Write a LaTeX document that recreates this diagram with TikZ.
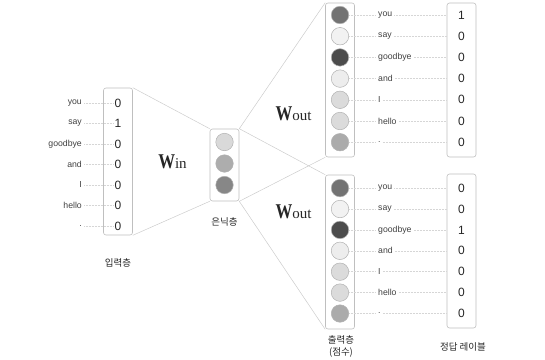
\documentclass[tikz,border=0pt]{standalone}
\usepackage{fontspec}
\setsansfont{Liberation Sans}
\newfontfamily\krfont{Noto Sans CJK KR}
\newfontfamily\wfont{Liberation Serif}
\begin{document}
\begin{tikzpicture}[
  font=\sffamily,
  x=1pt, y=-1pt,
  col/.style={draw=black!25, rounded corners=2.5pt, line width=0.6pt, minimum width=29pt, inner sep=0pt},
  unit/.style={circle, draw=black!30, line width=0.5pt, minimum size=17.5pt, inner sep=0pt},
  word/.style={font=\sffamily\fontsize{8.7}{10}\selectfont, text=black!75, inner sep=2pt},
  digit/.style={font=\sffamily\fontsize{12}{14}\selectfont, text=black!85, inner sep=1pt},
  guide/.style={draw=black!16, densely dotted, line width=0.5pt},
  fan/.style={draw=black!20, line width=0.5pt},
  tag/.style={font=\krfont\fontsize{9.5}{12}\selectfont, text=black!85, align=center},
  wt/.style={font=\wfont, text=black!85, anchor=base},
]
\useasboundingbox (0,0) rectangle (545,359);
\node[col, minimum height=147pt] (inbox) at (118,161.5) {};
\node[col, minimum height=72pt] (hidbox) at (224.5,165) {};
\node[col, minimum height=154pt] (outA) at (340,80) {};
\node[col, minimum height=154pt] (outB) at (340,252) {};
\node[col, minimum height=154pt] (tgtA) at (461.5,80) {};
\node[col, minimum height=154pt] (tgtB) at (461.5,251) {};
\draw[fan] (inbox.north east) -- (hidbox.north west) (inbox.south east) -- (hidbox.south west);
\draw[fan] (hidbox.north east) -- (outA.north west) (hidbox.north east) -- (outB.north west);
\draw[fan] (hidbox.south east) -- (outA.south west) (hidbox.south east) -- (outB.south west);
\foreach \i/\w/\v in {1/you/0,2/say/1,3/goodbye/0,4/and/0,5/I/0,6/hello/0,7/./0} {
  \node[digit] (x\i) at (118,82.5+20.5*\i) {\v};
  \node[word, anchor=east] (wx\i) at (84,82.5+20.5*\i) {\w};
  \draw[guide] (wx\i) -- (x\i);
}
\foreach \i/\g in {1/15,2/32,3/47}
  \node[unit, fill=black!\g] (h\i) at (224.5,120.5+21.5*\i) {};
\foreach \i/\w/\g/\a/\b in {1/you/55/1/0,2/say/5/0/0,3/goodbye/70/0/1,4/and/7/0/0,5/I/14/0/0,6/hello/14/0/0,7/./33/0/0} {
  \node[unit, fill=black!\g] (a\i) at (340,-6.2+21.2*\i) {};
  \node[word, anchor=west] (wa\i) at (376,-6.2+21.2*\i) {\w};
  \node[digit] (ta\i) at (461.5,-6.2+21.2*\i) {\a};
  \draw[guide] (a\i) -- (wa\i);
  \draw[guide] (wa\i) -- (ta\i -| tgtA.west);
  \node[unit, fill=black!\g] (b\i) at (340,167.2+20.9*\i) {};
  \node[word, anchor=west] (wb\i) at (376,167.2+20.9*\i) {\w};
  \node[digit] (tb\i) at (461.5,167.2+20.9*\i) {\b};
  \draw[guide] (b\i) -- (wb\i);
  \draw[guide] (wb\i) -- (tb\i -| tgtB.west);
}
\providecommand{\wmat}[1]{%
  \scalebox{0.8}[1]{\fontsize{21}{21}\selectfont\bfseries W}{\fontsize{15}{15}\selectfont #1}}
\node[wt] (win) at (172.5,168) {\wmat{in}};
\node[wt] (woutA) at (293.5,120) {\wmat{out}};
\node[wt] (woutB) at (293.5,218) {\wmat{out}};
\node[tag] (inlbl) at (118,263) {입력층};
\node[tag] (hidlbl) at (224.5,222) {은닉층};
\node[tag] (outlbl) at (341,346) {출력층\\(점수)};
\node[tag] (tgtlbl) at (463,347) {정답 레이블};
\end{tikzpicture}
\end{document}
